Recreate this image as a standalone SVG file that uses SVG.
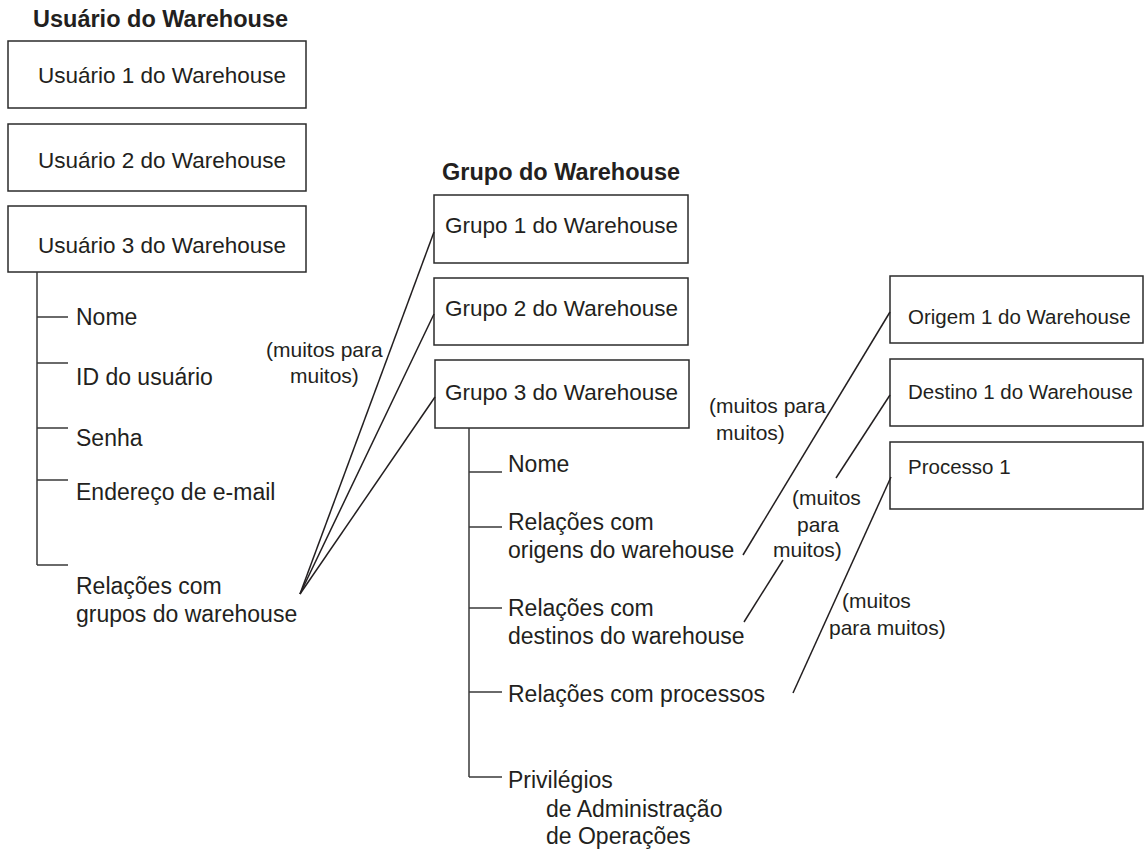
<svg xmlns="http://www.w3.org/2000/svg" width="1145" height="849" viewBox="0 0 1145 849">
  <style>
    text { font-family: "Liberation Sans", Arial, Helvetica, sans-serif; fill: #231f20; }
    .title { font-size: 23.5px; font-weight: bold; }
    .box { fill: #ffffff; stroke: #2b2b2b; stroke-width: 1.5; }
    .bt { font-size: 22.5px; }
    .bs { font-size: 20.5px; }
    .item { font-size: 23px; }
    .lbl { font-size: 21px; }
    .ln { stroke: #231f20; stroke-width: 1.5; fill: none; }
    .tree { stroke: #3a3a3a; stroke-width: 1.5; fill: none; }
  </style>
  <rect width="1145" height="849" fill="#ffffff"/>

  <!-- Warehouse users -->
  <text class="title" x="33" y="27">Usuário do Warehouse</text>
  <g id="usuario1">
    <rect class="box" x="8" y="41" width="298" height="67"/>
    <text class="bt" x="38" y="83">Usuário 1 do Warehouse</text>
  </g>
  <g id="usuario2">
    <rect class="box" x="8" y="124" width="298" height="67"/>
    <text class="bt" x="38" y="168">Usuário 2 do Warehouse</text>
  </g>
  <g id="usuario3">
    <rect class="box" x="8" y="206" width="298" height="66"/>
    <text class="bt" x="38" y="253">Usuário 3 do Warehouse</text>
    <path class="tree" d="M37 272 V565 M37 317 H68 M37 363 H68 M37 428 H68 M37 480 H68 M37 565 H68"/>
    <text class="item" x="76" y="325">Nome</text>
    <text class="item" x="76" y="385">ID do usuário</text>
    <text class="item" x="76" y="446">Senha</text>
    <text class="item" x="76" y="500">Endereço de e-mail</text>
    <text class="item" x="76" y="594">Relações com</text>
    <text class="item" x="76" y="622">grupos do warehouse</text>
  </g>

  <!-- Warehouse groups -->
  <text class="title" x="442" y="180">Grupo do Warehouse</text>
  <g id="grupo1">
    <rect class="box" x="434" y="195" width="254" height="68"/>
    <text class="bt" x="445" y="233">Grupo 1 do Warehouse</text>
  </g>
  <g id="grupo2">
    <rect class="box" x="434" y="278" width="254" height="67"/>
    <text class="bt" x="445" y="316">Grupo 2 do Warehouse</text>
  </g>
  <g id="grupo3">
    <rect class="box" x="435" y="360" width="254" height="68"/>
    <text class="bt" x="445" y="400">Grupo 3 do Warehouse</text>
    <path class="tree" d="M469 428 V777 M469 472 H502 M469 527 H502 M469 608 H502 M469 692 H502 M469 777 H502"/>
    <text class="item" x="508" y="472">Nome</text>
    <text class="item" x="508" y="530">Relações com</text>
    <text class="item" x="508" y="558">origens do warehouse</text>
    <text class="item" x="508" y="616">Relações com</text>
    <text class="item" x="508" y="644">destinos do warehouse</text>
    <text class="item" x="508" y="702">Relações com processos</text>
    <text class="item" x="508" y="788">Privilégios</text>
    <text class="item" x="546" y="817">de Administração</text>
    <text class="item" x="546" y="844">de Operações</text>
  </g>

  <!-- Sources, targets, processes -->
  <g id="origem1">
    <rect class="box" x="890" y="276" width="253" height="67"/>
    <text class="bs" x="908" y="324">Origem 1 do Warehouse</text>
  </g>
  <g id="destino1">
    <rect class="box" x="890" y="359" width="253" height="67"/>
    <text class="bs" x="908" y="399">Destino 1 do Warehouse</text>
  </g>
  <g id="processo1">
    <rect class="box" x="890" y="442" width="253" height="67"/>
    <text class="bs" x="908" y="474">Processo 1</text>
  </g>

  <!-- Many-to-many relationship connectors -->
  <g id="connectors">
    <line class="ln" x1="300" y1="594" x2="434" y2="232"/>
    <line class="ln" x1="300" y1="594" x2="434" y2="314"/>
    <line class="ln" x1="300" y1="594" x2="435" y2="397"/>
    <line class="ln" x1="743" y1="555" x2="890" y2="312"/>
    <line class="ln" x1="744" y1="622" x2="783" y2="560"/>
    <line class="ln" x1="836" y1="478" x2="890" y2="395"/>
    <line class="ln" x1="793" y1="693" x2="891" y2="477"/>
  </g>

  <!-- Cardinality labels -->
  <g id="labels">
    <text class="lbl" x="266" y="357">(muitos para</text>
    <text class="lbl" x="290" y="383">muitos)</text>
    <text class="lbl" x="709" y="413">(muitos para</text>
    <text class="lbl" x="716" y="440">muitos)</text>
    <text class="lbl" x="792" y="505">(muitos</text>
    <text class="lbl" x="797" y="532">para</text>
    <text class="lbl" x="773" y="557">muitos)</text>
    <text class="lbl" x="842" y="608">(muitos</text>
    <text class="lbl" x="829" y="635">para muitos)</text>
  </g>
</svg>
